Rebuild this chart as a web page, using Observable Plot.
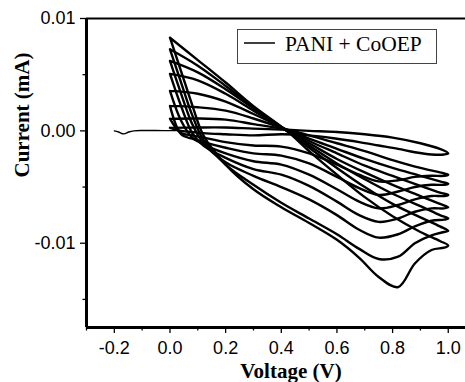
<!DOCTYPE html>
<html><head><meta charset="utf-8">
<script src="https://cdn.jsdelivr.net/npm/d3@7"></script>
<script src="https://cdn.jsdelivr.net/npm/@observablehq/plot@0.6"></script>
<style>body{margin:0;background:#fff} #chart{width:465px;height:382px;overflow:hidden}</style>
</head><body><div id="chart"></div>
<script>
// initial scan from -0.2 V to 0 V
const scanV = [-0.2, -0.185, -0.166, -0.148, -0.13, -0.1, -0.05, 0, 0.05];
const scanI = [0, -0.0001, -0.00027, -0.0001, 0, 0.00003, 0.00003, 0.00002, 0.00002];

// cyclic loops (8 cycles): lower branch, tip at 1.0 V, upper branch
const lowerV = [0, 0.04, 0.08, 0.12, 0.2, 0.3, 0.4, 0.5, 0.6, 0.68, 0.75, 0.82, 0.88, 0.94, 0.985];
const upperV = [0, 0.1, 0.2, 0.3, 0.42, 0.5, 0.6, 0.7, 0.8, 0.9, 0.97];
const tipV = 1.0;
const tipI = [-0.0020, -0.0039, -0.0047, -0.0057, -0.0068, -0.0078, -0.0089, -0.0102];
const lowerI = [
  [0.00027, 0.0000, -0.0001, -0.0002, -0.0003, -0.0004, -0.0003, -0.0004, -0.0007, -0.0010, -0.0013, -0.0016, -0.0019, -0.0021, -0.0021],
  [0.00107, -0.0002, -0.0004, -0.0006, -0.0010, -0.0013, -0.0014, -0.0020, -0.0030, -0.0039, -0.0045, -0.0044, -0.0041, -0.0040, -0.0040],
  [0.00222, -0.0003, -0.0007, -0.0010, -0.0015, -0.0020, -0.0022, -0.0029, -0.0041, -0.0051, -0.0057, -0.0054, -0.0050, -0.0048, -0.0048],
  [0.00356, 0.0009, -0.0006, -0.0012, -0.0020, -0.0027, -0.0030, -0.0039, -0.0052, -0.0063, -0.0069, -0.0066, -0.0061, -0.0058, -0.0058],
  [0.00507, 0.0022, -0.0002, -0.0013, -0.0024, -0.0034, -0.0039, -0.0049, -0.0063, -0.0075, -0.0081, -0.0078, -0.0072, -0.0069, -0.0069],
  [0.00622, 0.0033, 0.0006, -0.0011, -0.0028, -0.0040, -0.0050, -0.0061, -0.0075, -0.0088, -0.0095, -0.0092, -0.0085, -0.0080, -0.0079],
  [0.00726, 0.0043, 0.0014, -0.0008, -0.0030, -0.0048, -0.0064, -0.0078, -0.0092, -0.0105, -0.0114, -0.0112, -0.0100, -0.0093, -0.0090],
  [0.00829, 0.0053, 0.0023, -0.0004, -0.0030, -0.0052, -0.0068, -0.0082, -0.0097, -0.0113, -0.0130, -0.0139, -0.0118, -0.0106, -0.0104]
];
const upperI = [
  [0.00027, 0.0003, 0.0003, 0.0002, 0.0001, 0.0000, -0.0001, -0.0003, -0.0006, -0.0011, -0.0016],
  [0.00107, 0.0011, 0.0010, 0.0006, 0.0001, -0.0004, -0.0011, -0.0018, -0.0026, -0.0033, -0.0037],
  [0.00222, 0.0021, 0.0018, 0.0011, 0.0001, -0.0007, -0.0016, -0.0025, -0.0033, -0.0040, -0.0045],
  [0.00356, 0.0033, 0.0026, 0.0015, 0.0001, -0.0009, -0.0020, -0.0031, -0.0040, -0.0049, -0.0055],
  [0.00507, 0.0045, 0.0033, 0.0018, 0.0000, -0.0011, -0.0025, -0.0037, -0.0048, -0.0058, -0.0065],
  [0.00622, 0.0052, 0.0037, 0.0020, 0.0000, -0.0013, -0.0029, -0.0043, -0.0056, -0.0067, -0.0075],
  [0.00726, 0.0058, 0.0040, 0.0021, 0.0000, -0.0015, -0.0033, -0.0050, -0.0065, -0.0077, -0.0085],
  [0.00829, 0.0063, 0.0043, 0.0022, 0.0000, -0.0018, -0.0039, -0.0059, -0.0076, -0.0090, -0.0098]
];

const xMajor = [-0.2, 0, 0.2, 0.4, 0.6, 0.8, 1.0];
const xMinor = [-0.3, -0.1, 0.1, 0.3, 0.5, 0.7, 0.9];
const yMajor = [0.01, 0, -0.01];
const yMinor = [0.005, -0.005, -0.015];
const legendLabel = "PANI + CoOEP";

const loops = [];
tipI.forEach((tip, k) => {
  lowerV.forEach((v, i) => loops.push({loop: k, V: v, I: lowerI[k][i]}));
  loops.push({loop: k, V: tipV, I: tip});
  for (let i = upperV.length - 1; i >= 0; i--) loops.push({loop: k, V: upperV[i], I: upperI[k][i]});
});
const scan = scanV.map((v, i) => ({V: v, I: scanI[i]}));

const serif = "'Liberation Serif', 'Times New Roman', serif";
const plot = Plot.plot({
  width: 465, height: 382,
  marginLeft: 86, marginRight: 0, marginTop: 18, marginBottom: 55,
  x: {domain: [-0.3, 1.062]},
  y: {domain: [-0.0175, 0.01]},
  style: {fontFamily: "'Liberation Sans', Arial, sans-serif", background: "white", color: "black"},
  marks: [
    Plot.axisX(xMajor, {tickSize: 6, tickPadding: 8, tickFormat: d => d.toFixed(1), fontSize: 18, strokeWidth: 1.3, label: null}),
    Plot.axisX(xMinor, {tickSize: 3.5, tickFormat: () => "", strokeWidth: 1.3, label: null}),
    Plot.axisY(yMajor, {tickSize: 6, tickPadding: 5, tickFormat: d => d.toFixed(2), fontSize: 18, strokeWidth: 1.3, label: null}),
    Plot.axisY(yMinor, {tickSize: 3.5, tickFormat: () => "", strokeWidth: 1.3, label: null}),
    Plot.ruleX([-0.3], {strokeWidth: 3}),
    Plot.ruleY([-0.0175], {strokeWidth: 3}),
    Plot.ruleY([0.01], {strokeWidth: 1.8}),
    Plot.line(scan, {x: "V", y: "I", stroke: "black", strokeWidth: 1.4, curve: "catmull-rom"}),
    Plot.line(loops, {x: "V", y: "I", z: "loop", stroke: "black", strokeWidth: 2.4, curve: "catmull-rom"}),
    Plot.text(["Voltage (V)"], {text: d => d, frameAnchor: "bottom", lineAnchor: "bottom", dy: 50, dx: 15, fontSize: 21, fontWeight: "bold", fontFamily: serif}),
    Plot.text(["Current (mA)"], {text: d => d, frameAnchor: "left", rotate: -90, dx: -64, dy: 4.5, fontSize: 21, fontWeight: "bold", fontFamily: serif})
  ]
});

const svg = d3.select(plot);
const lg = svg.append("g");
lg.append("rect").attr("x", 237.5).attr("y", 29.5).attr("width", 199).attr("height", 34)
  .attr("fill", "white").attr("stroke", "#444").attr("stroke-width", 1);
lg.append("line").attr("x1", 244).attr("x2", 275).attr("y1", 43).attr("y2", 43)
  .attr("stroke", "black").attr("stroke-width", 1.5);
lg.append("text").attr("x", 285).attr("y", 51).attr("text-anchor", "start")
  .attr("font-family", serif).attr("font-size", 21.5)
  .attr("fill", "black").text(legendLabel);

document.getElementById("chart").appendChild(plot);
</script>
</body></html>
